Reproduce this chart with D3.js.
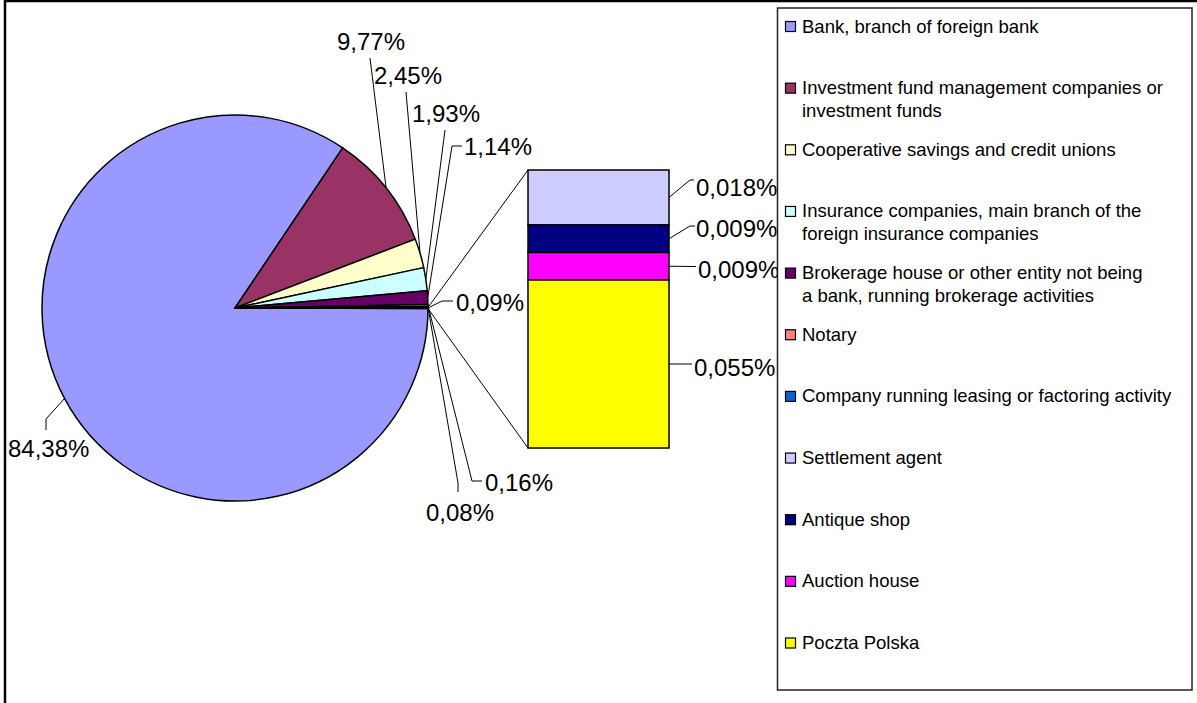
<!DOCTYPE html>
<html>
<head>
<meta charset="utf-8">
<script src="https://cdn.jsdelivr.net/npm/d3@7"></script>
<style>
  body { margin: 0; background: #fff; }
  svg { display: block; font-family: "Liberation Sans", Arial, sans-serif; }
</style>
</head>
<body>
<div class="chart"></div>
<script>
// data
const categories = [
  "Bank, branch of foreign bank",
  "Investment fund management companies or\ninvestment funds",
  "Cooperative savings and credit unions",
  "Insurance companies, main branch of the\nforeign insurance companies",
  "Brokerage house or other entity not being\na bank, running brokerage activities",
  "Notary",
  "Company running leasing or factoring activity",
  "Settlement agent",
  "Antique shop",
  "Auction house",
  "Poczta Polska"
];
const pieValues = [84.38, 9.77, 2.45, 1.93, 1.14, 0.16, 0.08];
const barValues = [0.018, 0.009, 0.009, 0.055];
const pieLabels = ["84,38%", "9,77%", "2,45%", "1,93%", "1,14%", "0,16%", "0,08%", "0,09%"];
const barLabels = ["0,018%", "0,009%", "0,009%", "0,055%"];
const colors = ["#9999FF", "#993366", "#FFFFCC", "#CCFFFF", "#660066", "#FF8080",
  "#0066CC", "#CCCCFF", "#000080", "#FF00FF", "#FFFF00"];

const w = 1197, h = 703;
const cx = 235, cy = 308, r = 193;

// label placement (moved by hand in the original)
const pieLabelPos = [
  { pts: [[46, 419], [46, 430]], x: 8, y: 457 },
  { pts: [[370, 58]], x: 337, y: 50 },
  { pts: [[406, 92]], x: 374, y: 84 },
  { pts: [[445, 130]], x: 412, y: 122 },
  { pts: [[452, 146], [462, 146]], x: 464, y: 155 },
  { pts: [[472, 481], [482, 481]], x: 485, y: 491 },
  { pts: [[458, 483], [458, 492]], x: 426, y: 521 },
  { pts: [[442, 301], [453, 301]], x: 456, y: 311 }
];
const barLabelPos = [
  { pts: [[690, 180], [694, 180]], x: 696, y: 196 },
  { pts: [[690, 226], [695, 226]], x: 696, y: 237 },
  { pts: [[696, 266.5]], x: 698, y: 278 },
  { pts: [[692, 364]], x: 694, y: 376 }
];

const svg = d3.select('.chart')
  .append('svg')
  .attr('width', w)
  .attr('height', h);

// outer frame
svg.append('rect')
  .attr('x', 5).attr('y', 1)
  .attr('width', 1400).attr('height', 1000)
  .attr('fill', 'none')
  .attr('stroke', '#000')
  .attr('stroke-width', 2.5);

// pie
const other = d3.sum(barValues);
const pieData = pieValues.concat([other]);
const total = d3.sum(pieData);
const a0 = Math.PI / 2 + (other / total) * Math.PI;
const pie = d3.pie().sort(null).startAngle(a0).endAngle(a0 + 2 * Math.PI);
const arcs = pie(pieData);
const arc = d3.arc().innerRadius(0).outerRadius(r);
const edge = d3.arc().innerRadius(r).outerRadius(r);
const pieColors = colors.slice(0, 7).concat(["#FFFFFF"]);

const g = svg.append('g').attr('transform', `translate(${cx},${cy})`);

g.selectAll('path.slice')
  .data(arcs)
  .enter().append('path')
  .attr('class', 'slice')
  .attr('d', arc)
  .attr('fill', (d, i) => pieColors[i])
  .attr('stroke', '#000')
  .attr('stroke-width', 1.5)
  .attr('stroke-linejoin', 'round');

// bar of pie
const barX = 528, barW = 141;
const yScale = d3.scaleLinear().domain([0, other]).range([170, 448]);
const stacked = [];
let acc = 0;
barValues.forEach((v, i) => { stacked.push({ v: v, y0: acc, y1: acc + v, i: i }); acc += v; });

// connector lines from the "other" slice to the bar
const oa = arcs[7];
const pStart = [cx + r * Math.sin(oa.startAngle), cy - r * Math.cos(oa.startAngle)];
const pEnd = [cx + r * Math.sin(oa.endAngle), cy - r * Math.cos(oa.endAngle)];
svg.append('line')
  .attr('x1', pStart[0]).attr('y1', pStart[1])
  .attr('x2', barX).attr('y2', yScale(0))
  .attr('stroke', '#000').attr('stroke-width', 1);
svg.append('line')
  .attr('x1', pEnd[0]).attr('y1', pEnd[1])
  .attr('x2', barX).attr('y2', yScale(other))
  .attr('stroke', '#000').attr('stroke-width', 1);

svg.selectAll('rect.seg')
  .data(stacked)
  .enter().append('rect')
  .attr('class', 'seg')
  .attr('x', barX)
  .attr('y', d => yScale(d.y0))
  .attr('width', barW)
  .attr('height', d => yScale(d.y1) - yScale(d.y0))
  .attr('fill', d => colors[7 + d.i])
  .attr('stroke', '#000')
  .attr('stroke-width', 1.5);

// leader lines + labels
const line = d3.line();
arcs.forEach((d, i) => {
  const c = edge.centroid(d);
  const pos = pieLabelPos[i];
  const pts = [[cx + c[0], cy + c[1]]].concat(pos.pts);
  svg.append('path')
    .attr('d', line(pts))
    .attr('fill', 'none')
    .attr('stroke', '#000')
    .attr('stroke-width', 1);
  svg.append('text')
    .attr('x', pos.x).attr('y', pos.y)
    .attr('font-size', 24)
    .attr('fill', '#000')
    .text(pieLabels[i]);
});

stacked.forEach((d, i) => {
  const pos = barLabelPos[i];
  const pts = [[barX + barW, (yScale(d.y0) + yScale(d.y1)) / 2]].concat(pos.pts);
  svg.append('path')
    .attr('d', line(pts))
    .attr('fill', 'none')
    .attr('stroke', '#000')
    .attr('stroke-width', 1);
  svg.append('text')
    .attr('x', pos.x).attr('y', pos.y)
    .attr('font-size', 24)
    .attr('fill', '#000')
    .text(barLabels[i]);
});

// legend
const legend = svg.append('g').attr('id', 'legend');
legend.append('rect')
  .attr('x', 777.5).attr('y', 8)
  .attr('width', 414.5).attr('height', 682)
  .attr('fill', '#fff')
  .attr('stroke', '#222')
  .attr('stroke-width', 1.5);

const item = legend.selectAll('.legend-item')
  .data(categories)
  .enter().append('g')
  .attr('class', 'legend-item')
  .attr('transform', (d, i) => `translate(0, ${32.5 + i * 61.65})`);

item.append('rect')
  .attr('x', 785.5).attr('y', -11)
  .attr('width', 10).attr('height', 10)
  .attr('fill', (d, i) => colors[i])
  .attr('stroke', '#000')
  .attr('stroke-width', 1.2);

item.append('text')
  .attr('x', 802)
  .attr('font-size', 18.5)
  .attr('fill', '#000')
  .selectAll('tspan')
  .data(d => d.split('\n'))
  .enter().append('tspan')
  .attr('x', 802)
  .attr('dy', (d, i) => i === 0 ? 0 : 22.5)
  .text(d => d);
</script>
</body>
</html>
